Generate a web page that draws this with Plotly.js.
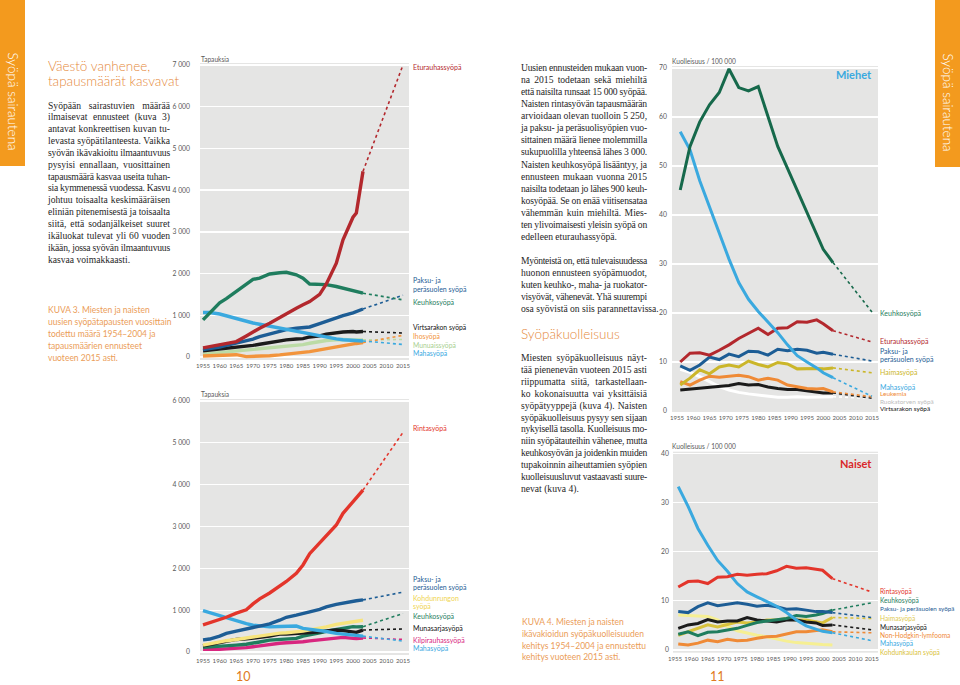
<!DOCTYPE html>
<html><head><meta charset="utf-8">
<script src="https://cdn.plot.ly/plotly-3.0.1.min.js"></script>
<style>
html,body{margin:0;padding:0;background:#fff;}
#wrap{position:relative;width:960px;height:685px;overflow:hidden;}
#plot{position:absolute;left:0;top:0;width:960px;height:685px;}
.ln{position:absolute;white-space:nowrap;font-family:"Liberation Serif",serif;font-size:9.6px;color:#262626;line-height:12px;}
.cap{position:absolute;white-space:nowrap;font-family:Lato,sans-serif;font-weight:400;font-size:8.5px;color:#eb9d58;line-height:12px;}
.hd{position:absolute;white-space:nowrap;font-family:Lato,sans-serif;font-weight:300;font-size:13.5px;color:#e5893a;line-height:15px;}
</style></head><body>
<div id="wrap"><div id="plot"></div></div>
<script>
// ---------- DATA ----------
const tickYears = [1955,1960,1965,1970,1975,1980,1985,1990,1995,2000,2005,2010,2015];
const projYears = [2003,2015];

// Kuva 3 – men, new cases
const incYears = [1955,1957,1960,1962,1965,1968,1970,1972,1975,1978,1980,1983,1985,1987,1990,1992,1995,1997,2000,2001,2003];
const menProstate   = [220,250,280,310,370,505,600,690,810,950,1050,1170,1250,1330,1500,1750,2250,2810,3350,3450,4450];
const menLung       = [890,1050,1300,1400,1570,1730,1860,1890,1990,2020,2030,1970,1890,1750,1750,1735,1690,1650,1570,1550,1530];
const menColorectal = [180,195,235,280,330,390,430,490,550,630,655,690,705,720,800,860,940,990,1060,1090,1150];
const menStomach    = [1065,1065,1030,985,920,850,815,785,740,690,660,610,580,545,500,465,435,415,395,385,385];
const menBladder    = [150,165,185,200,230,260,280,305,345,385,410,430,440,480,505,550,585,600,610,600,610];
const menSkin       = [25,35,40,50,55,10,10,20,30,50,65,80,95,130,170,200,225,270,310,325,345];
const menKidney     = [70,85,105,120,135,165,185,200,225,245,255,275,295,330,375,395,410,420,410,405,410];
const menIncProj2015 = {prostate:7000, lung:1370, colorectal:1480, stomach:300, bladder:575, skin:520, kidney:420};

// Kuva 3 – women, new cases
const womBreast     = [650,700,770,830,930,1010,1150,1270,1410,1565,1685,1880,2080,2350,2600,2760,3035,3315,3595,3700,3870];
const womColorectal = [290,310,380,445,500,540,585,620,670,760,830,880,930,960,1020,1080,1140,1175,1210,1225,1245];
const womUterus     = [165,200,245,270,300,335,365,395,430,450,460,480,500,530,565,600,660,690,720,735,760];
const womLung       = [110,125,145,155,165,185,205,240,285,300,310,325,380,420,460,495,540,570,605,600,605];
const womOvary      = [145,180,220,260,300,315,325,350,380,430,430,440,445,465,485,505,525,510,485,470,525];
const womThyroid    = [65,60,65,75,85,105,125,150,190,210,220,230,245,265,285,300,325,350,325,320,335];
const womStomach    = [990,940,880,820,740,680,640,620,600,610,620,620,565,545,525,490,445,430,405,395,380];
const womIncProj2015 = {breast:5250, colorectal:1430, lung:920, ovary:550, thyroid:300, stomach:260};

const incTicks1 = [0,1000,2000,3000,4000,5000,6000,7000];
const incTickText1 = ['0','1 000','2 000','3 000','4 000','5 000','6 000','7 000'];
const incTicks2 = [0,1000,2000,3000,4000,5000,6000];
const incTickText2 = ['0','1 000','2 000','3 000','4 000','5 000','6 000'];

// Kuva 4 – mortality / 100 000
const mortYears = [1956,1959,1962,1965,1968,1971,1974,1977,1980,1983,1986,1989,1992,1995,1998,2000,2003];
const mLung       = [45.1,54,59,62.5,65,69.8,66,65.3,66.2,60,54,49.5,45,40.5,36,33,30.3];
const mProstate   = [10,11.8,11.9,11.4,12.4,13.5,14.8,15.9,16.9,15.6,16.9,17,18.2,18.1,18.6,17.8,16.4];
const mColorectal = [9.2,8.3,9.4,11,10.5,11.6,11.1,12.2,12.1,11.4,12.6,12.3,12.6,12.4,11.8,12,11.6];
const mPancreas   = [5.3,6.7,8.4,7.6,9,9.4,9,10.2,9.5,9,9.9,9.6,8.6,8.7,8.7,8.6,8.8];
const mStomach    = [57,53.3,47,41.7,36,31,26.2,22.8,20.3,18.2,16,13.5,11.3,10,8.8,7.8,6.8];
const mLeukemia   = [6,5.3,6.3,7.1,6.9,7.1,7.3,7,6.3,6.7,6.3,5.3,4.9,4.6,4.5,4.6,3.9];
const mEsophagus  = [8.5,7.9,7,6,5,4.3,3.8,3.5,3.3,3.1,2.8,2.8,2.9,2.8,2.8,2.8,2.9];
const mBladder    = [4.3,4.5,4.7,4.8,5.1,5.2,5.6,5.3,5.4,4.9,4.6,4.4,4.4,4.1,3.9,3.7,3.7];
const mProj2015 = {lung:20.2, prostate:14.1, colorectal:10.2, pancreas:7.8, stomach:3.0, leukemia:2.9, esophagus:2.6, bladder:2.6};

const wBreast     = [12.8,13.9,14,13.5,14.8,14.9,15.4,15.2,15.4,15.5,16.1,17,16.6,16.7,16.4,16.2,14.5];
const wLung       = [3.2,3.7,2.9,3.6,3.7,4,4.4,5,5.6,5.9,6.2,6.4,7,6.8,7.1,7.4,8.1];
const wColorectal = [7.8,7.6,8.8,9.6,9,9.3,9.6,9.3,8.9,9.1,8.8,8.3,8.4,8.1,7.8,7.8,7.6];
const wPancreas   = [3,3.7,4.3,5.1,4.7,5.2,5.7,5.5,5.7,6.1,6.1,6.4,6.1,6.1,5.7,5.5,6.6];
const wOvary      = [4.4,5.1,5.4,6.2,5.7,5.9,5.9,6.6,6.1,5.9,5.7,6.1,6.1,5.7,5.5,5,5.1];
const wNHL        = [1.2,1,1.4,2,1.7,2.2,1.9,2,2.4,2.7,2.8,3.2,3.7,3.7,3.9,4.1,3.7];
const wStomach    = [33.2,29.2,24.7,21.3,18.2,16,13.5,11.8,10.8,9.9,8.9,7.6,6.1,4.9,4.2,3.8,3.5];
const wCervix     = [7.1,7,6.9,6.8,6.1,4.8,3.9,3.4,3,2.7,2.2,1.8,1.5,1.3,1.2,1.1,1];
const wProj2015 = {breast:11.8, lung:9.6, colorectal:6.6, pancreas:6.4, ovary:4.1, nhl:3.5, stomach:1.9};

const mortTicks1 = [0,10,20,30,40,50,60,70];
const mortTicks2 = [0,10,20,30,40];

// ---------- STYLE ----------
const C = {
  prostate:'#b3282d', lungI:'#1f7d5e', colo:'#1d5d95', stomach:'#3aa9df', black:'#1b1b1b',
  skin:'#f2943c', kidney:'#bcdba6', breast:'#e3352b', uterus:'#f7e47c', thyroid:'#d8267f',
  lungM:'#16694b', pancM:'#cbb62a', orange:'#ef8a36', white:'#ffffff', pancW:'#d9c23c', cervix:'#f6ef92'
};
const traces = [];
function line(ax, x, y, color, w){
  traces.push({type:'scatter',mode:'lines',x:x,y:y,xaxis:'x'+ax,yaxis:'y'+ax,
    line:{color:color,width:w||3.4},hoverinfo:'skip'});
}
function proj(ax, x, arr, end, color){
  traces.push({type:'scatter',mode:'lines',x:projYears,y:[arr[arr.length-1],end],xaxis:'x'+ax,yaxis:'y'+ax,
    line:{color:color,width:1.6,dash:'dot'},hoverinfo:'skip'});
}
// chart 1
line('',incYears,menKidney,C.kidney); line('',incYears,menSkin,C.skin); line('',incYears,menBladder,C.black);
line('',incYears,menColorectal,C.colo); line('',incYears,menStomach,C.stomach); line('',incYears,menLung,C.lungI);
line('',incYears,menProstate,C.prostate);
proj('',incYears,menKidney,menIncProj2015.kidney,C.kidney); proj('',incYears,menSkin,menIncProj2015.skin,C.skin);
proj('',incYears,menBladder,menIncProj2015.bladder,C.black); proj('',incYears,menColorectal,menIncProj2015.colorectal,C.colo);
proj('',incYears,menStomach,menIncProj2015.stomach,C.stomach); proj('',incYears,menLung,menIncProj2015.lung,C.lungI);
proj('',incYears,menProstate,menIncProj2015.prostate,C.prostate);
// chart 2
line('2',incYears,womThyroid,C.thyroid); line('2',incYears,womLung,C.lungI); line('2',incYears,womOvary,C.black);
line('2',incYears,womUterus,C.uterus); line('2',incYears,womStomach,C.stomach); line('2',incYears,womColorectal,C.colo);
line('2',incYears,womBreast,C.breast);
proj('2',incYears,womThyroid,womIncProj2015.thyroid,C.thyroid); proj('2',incYears,womLung,womIncProj2015.lung,C.lungI);
proj('2',incYears,womOvary,womIncProj2015.ovary,C.black); proj('2',incYears,womStomach,womIncProj2015.stomach,C.stomach);
proj('2',incYears,womColorectal,womIncProj2015.colorectal,C.colo); proj('2',incYears,womBreast,womIncProj2015.breast,C.breast);
// chart 3
line('3',mortYears,mEsophagus,C.white,3); line('3',mortYears,mBladder,C.black,3); line('3',mortYears,mLeukemia,C.orange,3);
line('3',mortYears,mPancreas,C.pancM,3); line('3',mortYears,mColorectal,C.colo,3); line('3',mortYears,mProstate,C.prostate,3);
line('3',mortYears,mStomach,C.stomach,3); line('3',mortYears,mLung,C.lungM,3);
proj('3',mortYears,mEsophagus,mProj2015.esophagus,C.white); proj('3',mortYears,mBladder,mProj2015.bladder,C.black);
proj('3',mortYears,mLeukemia,mProj2015.leukemia,C.orange); proj('3',mortYears,mPancreas,mProj2015.pancreas,C.pancM);
proj('3',mortYears,mColorectal,mProj2015.colorectal,C.colo); proj('3',mortYears,mProstate,mProj2015.prostate,C.prostate);
proj('3',mortYears,mStomach,mProj2015.stomach,C.stomach); proj('3',mortYears,mLung,mProj2015.lung,C.lungM);
// chart 4
line('4',mortYears,wCervix,C.cervix,3); line('4',mortYears,wNHL,C.orange,3); line('4',mortYears,wPancreas,C.pancW,3);
line('4',mortYears,wOvary,C.black,3); line('4',mortYears,wLung,C.lungI,3); line('4',mortYears,wColorectal,C.colo,3);
line('4',mortYears,wStomach,C.stomach,3); line('4',mortYears,wBreast,C.breast,3);
proj('4',mortYears,wNHL,wProj2015.nhl,C.orange); proj('4',mortYears,wPancreas,wProj2015.pancreas,C.pancW);
proj('4',mortYears,wOvary,wProj2015.ovary,C.black); proj('4',mortYears,wLung,wProj2015.lung,C.lungI);
proj('4',mortYears,wColorectal,wProj2015.colorectal,C.colo); proj('4',mortYears,wStomach,wProj2015.stomach,C.stomach);
proj('4',mortYears,wBreast,wProj2015.breast,C.breast);

const W=960,H=685;
const tf = {family:'Lato, sans-serif', size:6.1, color:'#5a5a5a'};
function xa(l,r,range,anch){return {domain:[l/W,r/W],range:range,anchor:anch,tickvals:tickYears,ticks:'',showgrid:false,
  zeroline:false,showline:false,tickfont:tf,tickangle:0,ticklabelstandoff:1,fixedrange:true};}
function ya(top,bot,range,anch,vals,text,stand){return {domain:[1-bot/H,1-top/H],range:range,anchor:anch,tickvals:vals,
  ticktext:text,ticks:'',showgrid:true,gridcolor:'#ffffff',gridwidth:1.3,zeroline:false,showline:false,
  tickfont:Object.assign({},tf,{size:6.8}),ticklabelstandoff:stand,fixedrange:true};}

const ann=[];
function A(px,py,text,color,size,o){
  ann.push(Object.assign({xref:'paper',yref:'paper',x:px/W,y:1-py/H,text:text,showarrow:false,xanchor:'left',yanchor:'middle',
    borderpad:0,font:{family:'Lato, sans-serif',size:size||7,color:color}},o||{}));
}
// axis titles
A(200,59,'Tapauksia','#5a5a5a',6.6); A(200,394,'Tapauksia','#5a5a5a',6.6);
A(671,61,'Kuolleisuus / 100 000','#5a5a5a',6.6); A(671,446,'Kuolleisuus / 100 000','#5a5a5a',6.6);
// chart 1 labels
A(412,67,'Eturauhassyöpä',C.prostate); A(412,280,'Paksu- ja',C.colo); A(412,289,'peräsuolen syöpä',C.colo);
A(412,302,'Keuhkosyöpä',C.lungI); A(412,327,'Virtsarakon syöpä','#111',6.8); A(412,336,'Ihosyöpä',C.skin,6.8);
A(412,344.5,'Munuaissyöpä','#a9cf90',6.8); A(412,353,'Mahasyöpä',C.stomach,6.8);
// chart 2 labels
A(412,428,'Rintasyöpä',C.breast); A(412,579,'Paksu- ja',C.colo); A(412,587,'peräsuolen syöpä',C.colo);
A(412,598,'Kohdunrungon','#efd450'); A(412,606,'syöpä','#efd450'); A(412,615.5,'Keuhkosyöpä',C.lungI);
A(412,628,'Munasarjasyöpä','#111'); A(412,639.5,'Kilpirauhassyöpä',C.thyroid); A(412,648,'Mahasyöpä',C.stomach);
// chart 3 labels
A(879,313,'Keuhkosyöpä',C.lungI); A(879,341,'Eturauhassyöpä',C.prostate); A(879,351,'Paksu- ja',C.colo);
A(879,359.5,'peräsuolen syöpä',C.colo); A(879,372,'Haimasyöpä',C.pancM); A(879,386.5,'Mahasyöpä',C.stomach);
A(879,393.8,'Leukemia',C.orange,6.4); A(879,401,'Ruokatorven syöpä','#bdbdbd',6.4); A(879,408.2,'Virtsarakon syöpä','#111',6.4);
// chart 4 labels
A(879,591,'Rintasyöpä',C.breast,6.6); A(879,599.5,'Keuhkosyöpä',C.lungI,6.6); A(879,608.5,'Paksu- ja peräsuolen syöpä',C.colo,6.3);
A(879,617.5,'Haimasyöpä','#e0ca50',6.6); A(879,626.5,'Munasarjasyöpä','#111',6.6); A(879,635,'Non-Hodgkin-lymfooma',C.orange,6.6);
A(879,643.3,'Mahasyöpä',C.stomach,6.6); A(879,651.5,'Kohdunkaulan syöpä',C.pancW,6.6);
// panel titles
A(873,74,'<b>Miehet</b>',C.stomach,11,{xanchor:'right'}); A(873,463,'<b>Naiset</b>','#d9282a',11,{xanchor:'right'});
// page numbers
A(243,676.5,'10','#e07a22',12.5,{xanchor:'center'}); A(717,676.5,'11','#e07a22',12.5,{xanchor:'center'});
// side tabs
A(12.5,101,'Syöpä sairautena','#ffffff',13.5,{xanchor:'center',textangle:90,font:{family:'Lato, sans-serif',size:13.5,color:'#fff',weight:300}});
A(947.5,102,'Syöpä sairautena','#ffffff',13.5,{xanchor:'center',textangle:90,font:{family:'Lato, sans-serif',size:13.5,color:'#fff',weight:300}});

const shapes=[
  {type:'rect',xref:'paper',yref:'paper',x0:0,x1:25/W,y0:1-166/H,y1:1,fillcolor:'#f39a1e',line:{width:0},layer:'below'},
  {type:'rect',xref:'paper',yref:'paper',x0:935/W,x1:1,y0:1-167/H,y1:1,fillcolor:'#f39a1e',line:{width:0},layer:'below'}
];

const layout={
  width:W,height:H,margin:{l:0,r:0,t:0,b:0},paper_bgcolor:'#ffffff',plot_bgcolor:'#e5e5e4',showlegend:false,
  font:{family:'Lato, sans-serif',color:'#5a5a5a'},
  xaxis:xa(200,409,[1954.1,2016.8],'y'),
  yaxis:ya(63,360,[-72,7048],'x',incTicks1,incTickText1,9),
  xaxis2:xa(200,409,[1954.1,2016.8],'y2'),
  yaxis2:ya(399,655,[-72,6048],'x2',incTicks2,incTickText2,9),
  xaxis3:xa(672,878,[1953.46,2016.85],'y3'),
  yaxis3:ya(66,412,[-0.2,70.4],'x3',mortTicks1,mortTicks1.map(String),4),
  xaxis4:xa(673,878,[1954.4,2016.9],'y4'),
  yaxis4:ya(451.7,652.7,[-0.55,40.3],'x4',mortTicks2,mortTicks2.map(String),3),
  annotations:ann,shapes:shapes
};
Plotly.newPlot('plot',traces,layout,{staticPlot:true,displayModeBar:false});

// ---------- TEXT ----------
const wrap=document.getElementById('wrap');
function put(cls,x,y,text,w){
  const d=document.createElement('div'); d.className=cls; d.textContent=text;
  d.style.left=x+'px'; d.style.top=(y-6)+'px'; wrap.appendChild(d);
  if(w){ const nat=d.getBoundingClientRect().width; const sp=(text.match(/ /g)||[]).length;
    if(nat<w && sp) d.style.wordSpacing=((w-nat)/sp)+'px';
    else if(nat>w) d.style.letterSpacing=((w-nat)/text.length)+'px'; }
  return d;
}
function para(x,y0,step,w,lines,cls){
  lines.forEach((t,i)=>put(cls||'ln',x,y0+i*step,t,i<lines.length-1?w:0));
}
const h1=document.createElement('div');h1.className='hd';h1.style.left='48px';h1.style.top='59px';
h1.innerHTML='Väestö vanhenee,<br>tapausmäärät kasvavat';wrap.appendChild(h1);
para(48,105.5,11.85,122,[
 'Syöpään sairastuvien määrää','ilmaisevat ennusteet (kuva 3)','antavat konkreettisen kuvan tu-',
 'levasta syöpätilanteesta. Vaikka','syövän ikävakioitu ilmaantuvuus','pysyisi ennallaan, vuosittainen',
 'tapausmäärä kasvaa useita tuhan-','sia kymmenessä vuodessa. Kasvu','johtuu toisaalta keskimääräisen',
 'eliniän pitenemisestä ja toisaalta','siitä, että sodanjälkeiset suuret','ikäluokat tulevat yli 60 vuoden',
 'ikään, jossa syövän ilmaantuvuus','kasvaa voimakkaasti.']);
['KUVA 3. Miesten ja naisten','uusien syöpätapausten vuosittain','todettu määrä 1954–2004 ja',
 'tapausmäärien ennusteet','vuoteen 2015 asti.'].forEach((t,i)=>put('cap',48,309.5+i*12.1,t));

para(521,68,12.07,126,[
 'Uusien ennusteiden mukaan vuon-','na 2015 todetaan sekä miehiltä','että naisilta runsaat 15 000 syöpää.',
 'Naisten rintasyövän tapausmäärän','arvioidaan olevan tuolloin 5 250,','ja paksu- ja peräsuolisyöpien vuo-',
 'sittainen määrä lienee molemmilla','sukupuolilla yhteensä lähes 3 000.','Naisten keuhkosyöpä lisääntyy, ja',
 'ennusteen mukaan vuonna 2015','naisilta todetaan jo lähes 900 keuh-','kosyöpää. Se on enää viitisensataa',
 'vähemmän kuin miehiltä. Mies-','ten ylivoimaisesti yleisin syöpä on','edelleen eturauhassyöpä.']);
para(521,261,12.07,126,[
 'Myönteistä on, että tulevaisuudessa','huonon ennusteen syöpämuodot,','kuten keuhko-, maha- ja ruokator-',
 'visyövät, vähenevät. Yhä suurempi','osa syövistä on siis parannettavissa.']);
const h2=document.createElement('div');h2.className='hd';h2.style.left='521px';h2.style.top='327px';
h2.textContent='Syöpäkuolleisuus';wrap.appendChild(h2);
para(521,358,11.9,126,[
 'Miesten syöpäkuolleisuus näyt-','tää pienenevän vuoteen 2015 asti','riippumatta siitä, tarkastellaan-',
 'ko kokonaisuutta vai yksittäisiä','syöpätyyppejä (kuva 4). Naisten','syöpäkuolleisuus pysyy sen sijaan',
 'nykyisellä tasolla. Kuolleisuus mo-','niin syöpätauteihin vähenee, mutta','keuhkosyövän ja joidenkin muiden',
 'tupakoinnin aiheuttamien syöpien','kuolleisuusluvut vastaavasti suure-','nevat (kuva 4).']);
['KUVA 4. Miesten ja naisten','ikävakioidun syöpäkuolleisuuden','kehitys 1954–2004 ja ennustettu',
 'kehitys vuoteen 2015 asti.'].forEach((t,i)=>put('cap',522,622+i*11.8,t));
</script>
</body></html>
